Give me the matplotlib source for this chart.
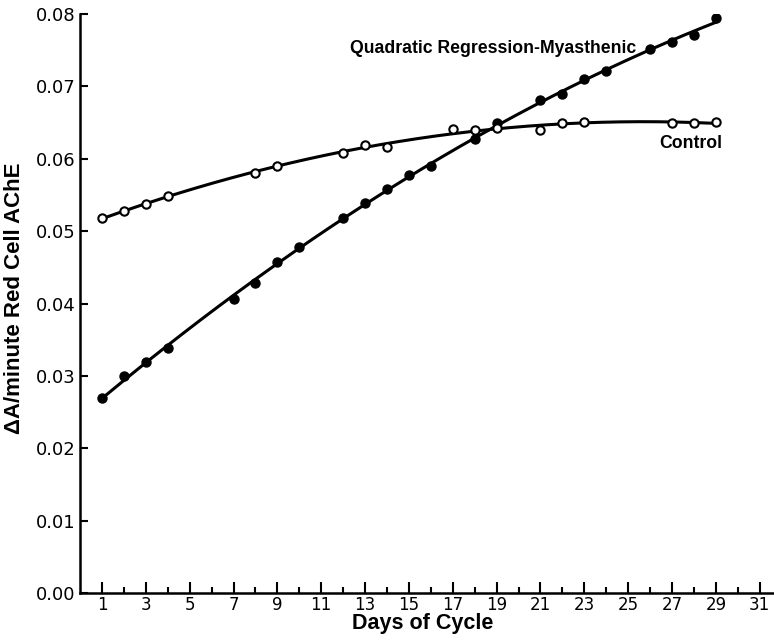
import numpy as np
import matplotlib
matplotlib.use("Agg")
import matplotlib.pyplot as plt

# Data
myas_days = [1, 2, 3, 4, 7, 8, 9, 10, 12, 13, 14, 15, 16, 18, 19, 21, 22, 23, 24, 26, 27, 28, 29]
myas_vals = [0.0269, 0.0300, 0.0319, 0.0338, 0.0406, 0.0428, 0.0457, 0.0478, 0.0518, 0.0539,
             0.0558, 0.0578, 0.0590, 0.0628, 0.0650, 0.0681, 0.0690, 0.0710, 0.0722, 0.0752,
             0.0761, 0.0771, 0.0794]

ctrl_days = [1, 2, 3, 4, 8, 9, 12, 13, 14, 17, 18, 19, 21, 22, 23, 27, 28, 29]
ctrl_vals = [0.0518, 0.0528, 0.0538, 0.0548, 0.0580, 0.0590, 0.0608, 0.0619, 0.0617, 0.0641,
             0.0640, 0.0642, 0.0640, 0.0650, 0.0651, 0.0649, 0.0649, 0.0651]

x_ticks = list(range(1, 32, 2))
y_ticks = [0.00, 0.01, 0.02, 0.03, 0.04, 0.05, 0.06, 0.07, 0.08]

plt.rcParams['font.family'] = ['Liberation Sans', 'DejaVu Sans']

fig = plt.figure(figsize=(7.74, 6.4), dpi=100)
ax = fig.add_axes([0.1034, 0.0734, 0.8966, 0.9046])

# quadratic regression curves fitted to the data
xs = np.linspace(1, 29, 200)
pm = np.polyfit(myas_days, myas_vals, 2)
pc = np.polyfit(ctrl_days, ctrl_vals, 2)
ax.plot(xs, np.polyval(pm, xs), color='black', lw=2.2, zorder=2)
ax.plot(xs, np.polyval(pc, xs), color='black', lw=2.2, zorder=2)

ax.plot(myas_days, myas_vals, 'o', ms=6.5, mfc='black', mec='black', zorder=3)
ax.plot(ctrl_days, ctrl_vals, 'o', ms=6, mfc='white', mec='black', mew=1.5, zorder=3)

ax.text(12.3, 0.0752, 'Quadratic Regression-Myasthenic', fontsize=12.7, fontweight='bold',
        va='center', ha='left')
ax.text(26.4, 0.0621, 'Control', fontsize=12.7, fontweight='bold', va='center', ha='left')

ax.set_xlim(0, 31.65)
ax.set_ylim(0, 0.08)
ax.set_xticks(x_ticks)
ax.set_xticklabels([str(t) for t in x_ticks], fontsize=12, family='DejaVu Sans')
ax.set_xticks(range(2, 32, 2), minor=True)
ax.set_yticks(y_ticks)
ax.set_yticklabels([f'{t:.2f}' for t in y_ticks], fontsize=13, family='DejaVu Sans')

ax.tick_params(axis='x', which='major', direction='in', length=8, width=1.5, pad=2)
ax.tick_params(axis='x', which='minor', direction='in', length=4, width=1.5)
ax.tick_params(axis='y', which='major', direction='in', length=6, width=1.5, pad=3)

for s in ['top', 'right']:
    ax.spines[s].set_visible(False)
for s in ['left', 'bottom']:
    ax.spines[s].set_linewidth(1.8)

ax.set_xlabel('Days of Cycle', fontsize=15.5, fontweight='bold', labelpad=0)
ax.xaxis.set_label_coords(0.494, -0.0345)
ax.set_ylabel('ΔA/minute Red Cell AChE', fontsize=16, fontweight='bold')
ax.yaxis.set_label_coords(-0.079, 0.51)

fig.savefig('out.png', dpi=100)
